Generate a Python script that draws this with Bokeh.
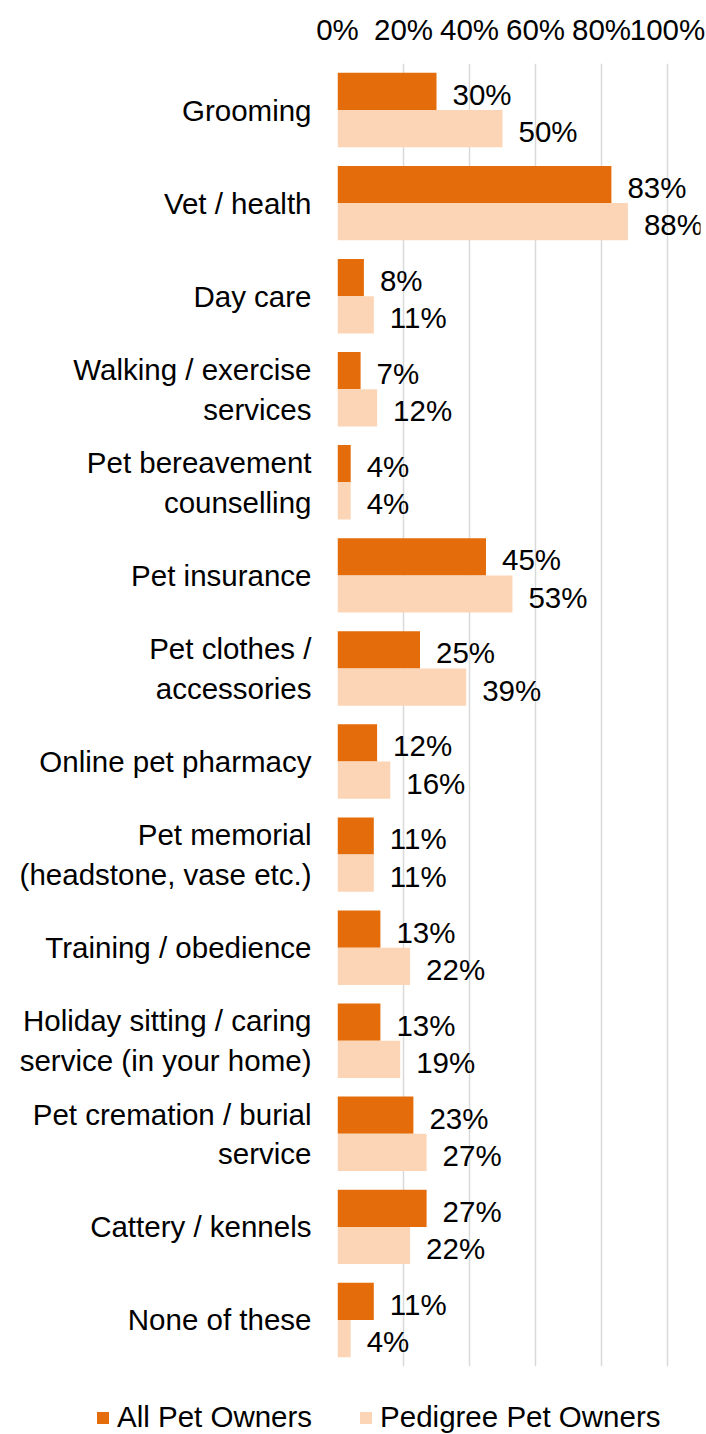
from bokeh.plotting import figure
from bokeh.models import (ColumnDataSource, FactorRange, Range1d, PrintfTickFormatter,
                          FixedTicker, Legend, LegendItem)
from bokeh.transform import dodge
from bokeh.core.properties import value
from bokeh.embed import file_html
from bokeh.resources import INLINE

categories = ["Grooming", "Vet / health", "Day care", "Walking / exercise\nservices",
              "Pet bereavement\ncounselling", "Pet insurance", "Pet clothes /\naccessories",
              "Online pet pharmacy", "Pet memorial\n(headstone, vase etc.)",
              "Training / obedience", "Holiday sitting / caring\nservice (in your home)",
              "Pet cremation / burial\nservice", "Cattery / kennels", "None of these"]
all_owners = [30, 83, 8, 7, 4, 45, 25, 12, 11, 13, 13, 23, 27, 11]
pedigree_owners = [50, 88, 11, 12, 4, 53, 39, 16, 11, 22, 19, 27, 22, 4]
series_names = ["All Pet Owners", "Pedigree Pet Owners"]
x_ticks = [0, 20, 40, 60, 80, 100]

FONT = "Liberation Sans"
FS = "29.5px"
DARK = "#E46C0A"
LIGHT = "#FBD5B5"

src = ColumnDataSource(dict(
    cat=categories,
    a=all_owners,
    b=pedigree_owners,
    a_lbl=[f"{v}%" for v in all_owners],
    b_lbl=[f"{v}%" for v in pedigree_owners],
))

W = 706
H_MAIN = 1370
H_LEG = 64

p = figure(width=W, height=H_MAIN, output_backend="svg", toolbar_location=None,
           y_range=FactorRange(factors=list(reversed(categories)), range_padding=0),
           x_range=Range1d(0, 110), x_axis_location="above",
           min_border_left=337, min_border_right=6, min_border_top=63, min_border_bottom=4)
p.outline_line_color = None
p.background_fill_color = "white"
p.border_fill_color = "white"

p.hbar(y=dodge("cat", 0.2, range=p.y_range), right="a", left=0, height=0.4,
       source=src, fill_color=DARK, line_color=None)
p.hbar(y=dodge("cat", -0.2, range=p.y_range), right="b", left=0, height=0.4,
       source=src, fill_color=LIGHT, line_color=None)

for col, lbl, off in (("a", "a_lbl", 0.2), ("b", "b_lbl", -0.2)):
    p.text(x=col, y=dodge("cat", off, range=p.y_range), text=lbl, source=src,
           x_offset=16, y_offset=3, text_align="left", text_baseline="middle",
           text_font=value(FONT), text_font_size=FS, text_color="black")

xa = p.xaxis[0]
xa.ticker = FixedTicker(ticks=x_ticks)
xa.formatter = PrintfTickFormatter(format="%d%%")
xa.axis_line_color = None
xa.major_tick_line_color = None
xa.minor_tick_line_color = None
xa.major_tick_out = 0
xa.major_label_text_font = FONT
xa.major_label_text_font_size = FS
xa.major_label_text_color = "black"
xa.major_label_standoff = 18

ya = p.yaxis[0]
ya.axis_line_color = None
ya.major_tick_line_color = None
ya.minor_tick_line_color = None
ya.major_tick_out = 0
ya.major_label_text_font = FONT
ya.major_label_text_font_size = FS
ya.major_label_text_color = "black"
ya.major_label_standoff = 26

p.ygrid.grid_line_color = None
p.xgrid.grid_line_color = "#D9D9D9"
p.xgrid.grid_line_width = 1.5

# legend strip below the chart (separate root so its frame spans the full width)
q = figure(width=W, height=H_LEG, output_backend="svg", toolbar_location=None,
           x_range=Range1d(0, 1),
           y_range=FactorRange(factors=list(reversed(categories))),
           min_border=0, min_border_left=0, min_border_right=0,
           min_border_top=0, min_border_bottom=0)
q.axis.visible = False
q.grid.visible = False
q.outline_line_color = None
q.background_fill_color = "white"
q.border_fill_color = "white"
la = q.hbar(y=dodge("cat", 0.2, range=q.y_range), right="a", left=0, height=0.4,
            source=src, fill_color=DARK, line_color=None, visible=False)
lb = q.hbar(y=dodge("cat", -0.2, range=q.y_range), right="b", left=0, height=0.4,
            source=src, fill_color=LIGHT, line_color=None, visible=False)

legend = Legend(items=[LegendItem(label=series_names[0], renderers=[la]),
                       LegendItem(label=series_names[1], renderers=[lb])],
                orientation="horizontal", location=(95, 0),
                glyph_width=15, glyph_height=15, label_standoff=7, spacing=46,
                padding=0, margin=0, border_line_color=None, background_fill_alpha=0,
                label_text_font=FONT, label_text_font_size=FS, label_text_color="black")
q.add_layout(legend, "center")

open("out.html", "w").write(file_html([p, q], INLINE))
